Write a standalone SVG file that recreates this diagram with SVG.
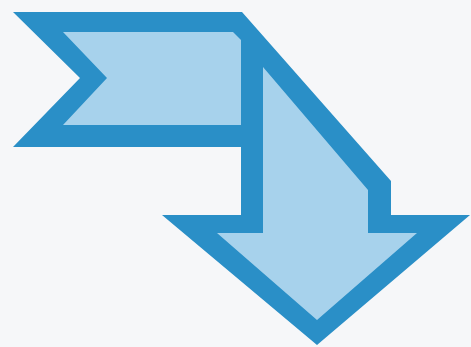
<svg xmlns="http://www.w3.org/2000/svg" width="471" height="347" viewBox="0 0 471 347">
  <style>
    .outer { fill: #2a8fc7; }
    .inner { fill: #a7d2ec; }
  </style>
  <rect width="471" height="347" fill="#f6f7f9"/>
  <g id="bent-arrow">
    <path class="outer" d="M13,12 L242,12 L391,181 L391,215 L470,215 L317,345 L162,215 L241,215 L241,147 L13,147 L80,78 Z"/>
    <path id="ribbon-face" class="inner" d="M63,32 L233,32 L241,40 L241,125 L63,125 L107,78 Z"/>
    <path id="arrow-face" class="inner" d="M263,67 L368,190 L368,233 L417,233 L317,320 L217,233 L263,233 Z"/>
  </g>
</svg>
